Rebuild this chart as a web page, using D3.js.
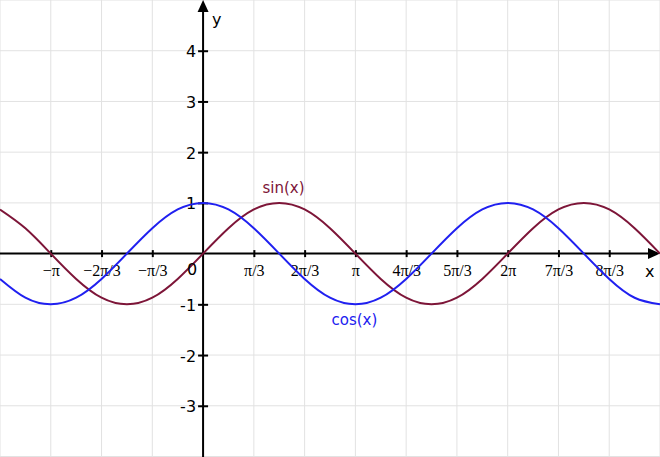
<!DOCTYPE html>
<html lang="en">
<head>
    <meta charset="UTF-8">
    <title>sin and cos</title>
    <script src="https://cdn.jsdelivr.net/npm/d3@7"></script>
    <style>
        body { margin: 0; background: #fff; }
        .grid line { stroke: #e2e2e2; stroke-width: 1px; }
        .axis line { stroke: #000; stroke-width: 2px; }
        .xaxis text { font-family: "Liberation Serif", serif; font-size: 16px; fill: #000; }
        .yaxis text { font-family: "DejaVu Sans", sans-serif; font-size: 16px; fill: #000; }
        .lbl { font-family: "DejaVu Sans", sans-serif; font-size: 16px; }
    </style>
</head>
<body>
<script>
    // x positions in units of pi/6, from -4pi/3 to 3pi
    var sampleK = [-8, -7, -6, -5, -4, -3, -2, -1, 0, 1, 2, 3, 4, 5, 6, 7, 8, 9,
                   10, 11, 12, 13, 14, 15, 16, 17, 18];
    var sinValues = [0.87, 0.5, 0, -0.5, -0.87, -1, -0.87, -0.5, 0, 0.5, 0.87, 1, 0.87, 0.5,
                     0, -0.5, -0.87, -1, -0.87, -0.5, 0, 0.5, 0.87, 1, 0.87, 0.5, 0];
    var cosValues = [-0.5, -0.87, -1, -0.87, -0.5, 0, 0.5, 0.87, 1, 0.87, 0.5, 0, -0.5, -0.87,
                     -1, -0.87, -0.5, 0, 0.5, 0.87, 1, 0.87, 0.5, 0, -0.5, -0.87, -1];

    // tick values in units of pi/3
    var xTickK = [-3, -2, -1, 1, 2, 3, 4, 5, 6, 7, 8];
    var xTickLabels = ["\u2212\u03c0", "\u22122\u03c0/3", "\u2212\u03c0/3", "\u03c0/3", "2\u03c0/3",
                       "\u03c0", "4\u03c0/3", "5\u03c0/3", "2\u03c0", "7\u03c0/3", "8\u03c0/3"];
    var yTicks = [-3, -2, -1, 1, 2, 3, 4];
    var yTickLabels = ["-3", "-2", "-1", "1", "2", "3", "4"];

    var width = 660;
    var height = 457;

    // x scale works in units of pi/6
    var x = d3.scaleLinear().domain([-8, 18]).range([0, width]);
    var y = d3.scaleLinear().domain([-4.01, 5]).range([height, 0]);

    var svg = d3.select("body").append("svg")
            .attr("width", width)
            .attr("height", height);

    svg.append("rect").attr("width", width).attr("height", height).attr("fill", "#fff");

    // grid
    var grid = svg.append("g").attr("class", "grid");
    grid.selectAll(".vg")
            .data(d3.range(-4, 10))
            .enter().append("line")
            .attr("x1", function (d) { return x(d * 2); })
            .attr("x2", function (d) { return x(d * 2); })
            .attr("y1", 0)
            .attr("y2", height);
    grid.selectAll(".hg")
            .data(d3.range(-4, 6))
            .enter().append("line")
            .attr("x1", 0)
            .attr("x2", width)
            .attr("y1", function (d) { return y(d); })
            .attr("y2", function (d) { return y(d); });

    var x0 = x(0), y0 = y(0);

    // axes lines with arrows
    svg.append("line").attr("class", "axisline")
            .attr("x1", 0).attr("x2", width - 10)
            .attr("y1", y0).attr("y2", y0)
            .attr("stroke", "#000").attr("stroke-width", 2);
    svg.append("path")
            .attr("d", "M" + width + "," + y0 + "L" + (width - 12) + "," + (y0 - 5.5) +
                    "L" + (width - 12) + "," + (y0 + 5.5) + "Z")
            .attr("fill", "#000");
    svg.append("line")
            .attr("x1", x0).attr("x2", x0)
            .attr("y1", height).attr("y2", 10)
            .attr("stroke", "#000").attr("stroke-width", 2);
    svg.append("path")
            .attr("d", "M" + x0 + ",0L" + (x0 - 5.5) + ",12L" + (x0 + 5.5) + ",12Z")
            .attr("fill", "#000");

    // x axis ticks
    var xAxis = d3.axisBottom(x)
            .tickValues(xTickK.map(function (k) { return k * 2; }))
            .tickFormat(function (d, i) { return xTickLabels[i]; })
            .tickSizeOuter(0);
    var gx = svg.append("g").attr("class", "axis xaxis")
            .attr("transform", "translate(0," + y0 + ")")
            .call(xAxis);
    gx.select(".domain").remove();
    gx.selectAll(".tick line").attr("y1", -3.5).attr("y2", 3.5);
    gx.selectAll(".tick text").attr("dy", null).attr("y", 22).attr("font-family", null).attr("font-size", null);
    gx.attr("font-family", null).attr("font-size", null);

    // y axis ticks
    var yAxis = d3.axisLeft(y)
            .tickValues(yTicks)
            .tickFormat(function (d, i) { return yTickLabels[i]; })
            .tickSizeOuter(0);
    var gy = svg.append("g").attr("class", "axis yaxis")
            .attr("transform", "translate(" + x0 + ",0)")
            .call(yAxis);
    gy.select(".domain").remove();
    gy.selectAll(".tick line").attr("x1", -5).attr("x2", 5);
    gy.selectAll(".tick text").attr("x", -7).attr("dy", "0.38em");
    gy.attr("font-family", null).attr("font-size", null);

    // curves
    var line = d3.line()
            .x(function (d) { return x(d.k); })
            .y(function (d) { return y(d.v); })
            .curve(d3.curveNatural);

    var sinData = sampleK.map(function (k, i) { return {k: k, v: sinValues[i]}; });
    var cosData = sampleK.map(function (k, i) { return {k: k, v: cosValues[i]}; });

    svg.append("path").datum(sinData)
            .attr("d", line)
            .attr("fill", "none")
            .attr("stroke", "#7d1538")
            .attr("stroke-width", 2);
    svg.append("path").datum(cosData)
            .attr("d", line)
            .attr("fill", "none")
            .attr("stroke", "#2020f0")
            .attr("stroke-width", 2);

    // labels
    svg.append("text").attr("class", "lbl")
            .attr("x", x0 - 6).attr("y", y0 + 21.5)
            .attr("text-anchor", "end")
            .text("0");
    svg.append("text").attr("class", "lbl")
            .attr("x", x0 + 9).attr("y", 24.5)
            .text("y");
    svg.append("text").attr("class", "lbl")
            .attr("x", width - 15).attr("y", y0 + 23.5)
            .text("x");
    svg.append("text").attr("class", "lbl")
            .attr("x", 262.5).attr("y", 192.5)
            .attr("fill", "#7d1538")
            .style("font-size", "15px")
            .text("sin(x)");
    svg.append("text").attr("class", "lbl")
            .attr("x", 331.5).attr("y", 325)
            .attr("fill", "#2020f0")
            .style("font-size", "15px")
            .text("cos(x)");
</script>
</body>
</html>
